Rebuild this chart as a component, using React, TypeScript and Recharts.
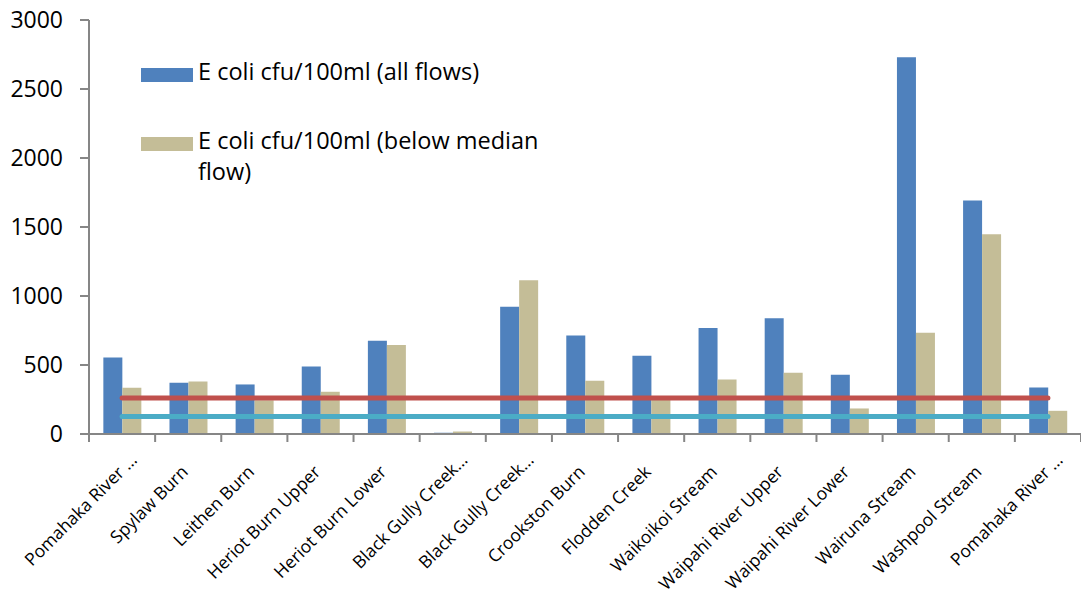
import React from 'react';
import { ComposedChart, Bar, Line, XAxis, YAxis, Legend } from 'recharts';

const siteLabels = [
  'Pomahaka River …',
  'Spylaw Burn',
  'Leithen Burn',
  'Heriot Burn Upper',
  'Heriot Burn Lower',
  'Black Gully Creek…',
  'Black Gully Creek…',
  'Crookston Burn',
  'Flodden Creek',
  'Waikoikoi Stream',
  'Waipahi River Upper',
  'Waipahi River Lower',
  'Wairuna Stream',
  'Washpool Stream',
  'Pomahaka River …',
];

const allFlows = [555, 371, 359, 490, 676, 9, 923, 713, 567, 768, 838, 430, 2730, 1692, 337];
const belowMedian = [335, 381, 245, 306, 645, 18, 1114, 386, 250, 395, 444, 185, 734, 1448, 168];
const guidelineHigh = 260;
const guidelineLow = 126;

const yTicks = [0, 500, 1000, 1500, 2000, 2500, 3000];

const seriesNames = ['E coli cfu/100ml (all flows)', 'E coli cfu/100ml (below median flow)'];
const legendLines = [['E coli cfu/100ml (all flows)'], ['E coli cfu/100ml (below median', 'flow)']];

const data = siteLabels.map((_, i) => ({
  idx: i,
  all: allFlows[i],
  below: belowMedian[i],
  high: guidelineHigh,
  low: guidelineLow,
}));

const FONT = '"Open Sans", sans-serif';
const AXIS_COLOR = '#868686';
const BLUE = '#4F81BD';
const TAN = '#C4BD97';
const RED = '#C0504D';
const CYAN = '#4BACC6';

const SiteTick = (props: any) => {
  const { x, y, payload, index, width } = props;
  const half = payload && typeof payload.offset === 'number' && payload.offset > 0
    ? payload.offset
    : (width || 992) / (2 * siteLabels.length);
  const label = siteLabels[payload.value] ?? String(payload.value);
  const truncated = label.endsWith('…');
  const dx = truncated ? 16 : 1;
  const dy = truncated ? 27 : 39;
  return (
    <g>
      <line x1={x - half} x2={x - half} y1={y} y2={y + 8} stroke={AXIS_COLOR} strokeWidth={2} />
      {index === siteLabels.length - 1 && (
        <line x1={x + half} x2={x + half} y1={y} y2={y + 8} stroke={AXIS_COLOR} strokeWidth={2} />
      )}
      <text
        transform={`translate(${x + dx},${y + dy}) rotate(-45)`}
        textAnchor="end"
        fontSize={17.5}
        fontFamily={FONT}
        fill="#000"
      >
        {label}
      </text>
    </g>
  );
};

const colors = [BLUE, TAN];

const LegendBox = () => (
  <div style={{ fontFamily: FONT, fontSize: 23.5, color: '#000' }}>
    {legendLines.map((lines, i) => (
      <div key={i} style={{ position: 'relative', height: i === 0 ? 69 : 70 }}>
        <div
          style={{
            position: 'absolute',
            left: 0,
            top: 7,
            width: 52,
            height: 14,
            background: colors[i],
          }}
        />
        <div style={{ position: 'absolute', left: 57, top: -5, lineHeight: '31px', whiteSpace: 'nowrap' }}>
          {lines.map((l, j) => (
            <div key={j}>{l}</div>
          ))}
        </div>
      </div>
    ))}
  </div>
);

export default function App() {
  return (
    <div style={{ position: 'absolute', left: 0, top: 0, width: 1081, height: 597, background: '#fff' }}>
      <ComposedChart
        width={1081}
        height={597}
        data={data}
        margin={{ top: 20, right: 0, bottom: 0, left: 0 }}
        barCategoryGap="21.7%"
        barGap={0}
      >
        <XAxis
          dataKey="idx"
          type="category"
          height={163}
          tickLine={false}
          tickSize={0}
          tickMargin={0}
          interval={0}
          axisLine={{ stroke: AXIS_COLOR, strokeWidth: 2 }}
          tick={<SiteTick />}
        />
        <YAxis
          width={89}
          domain={[0, 3000]}
          ticks={yTicks}
          interval={0}
          tickSize={9}
          tickMargin={17}
          axisLine={{ stroke: AXIS_COLOR, strokeWidth: 2 }}
          tickLine={{ stroke: AXIS_COLOR, strokeWidth: 2 }}
          tick={{ fill: '#000', fontSize: 23, fontFamily: FONT }}
        />
        <Legend
          layout="vertical"
          align="center"
          verticalAlign="middle"
          content={<LegendBox />}
          wrapperStyle={{ left: 141, top: 61, width: 440, height: 140 }}
        />
        <Bar dataKey="all" name={seriesNames[0]} fill={BLUE} isAnimationActive={false} />
        <Bar dataKey="below" name={seriesNames[1]} fill={TAN} isAnimationActive={false} />
        <Line
          dataKey="high"
          stroke={RED}
          strokeWidth={5}
          strokeLinecap="round"
          dot={false}
          activeDot={false}
          legendType="none"
          isAnimationActive={false}
        />
        <Line
          dataKey="low"
          stroke={CYAN}
          strokeWidth={5}
          strokeLinecap="round"
          dot={false}
          activeDot={false}
          legendType="none"
          isAnimationActive={false}
        />
      </ComposedChart>
    </div>
  );
}
